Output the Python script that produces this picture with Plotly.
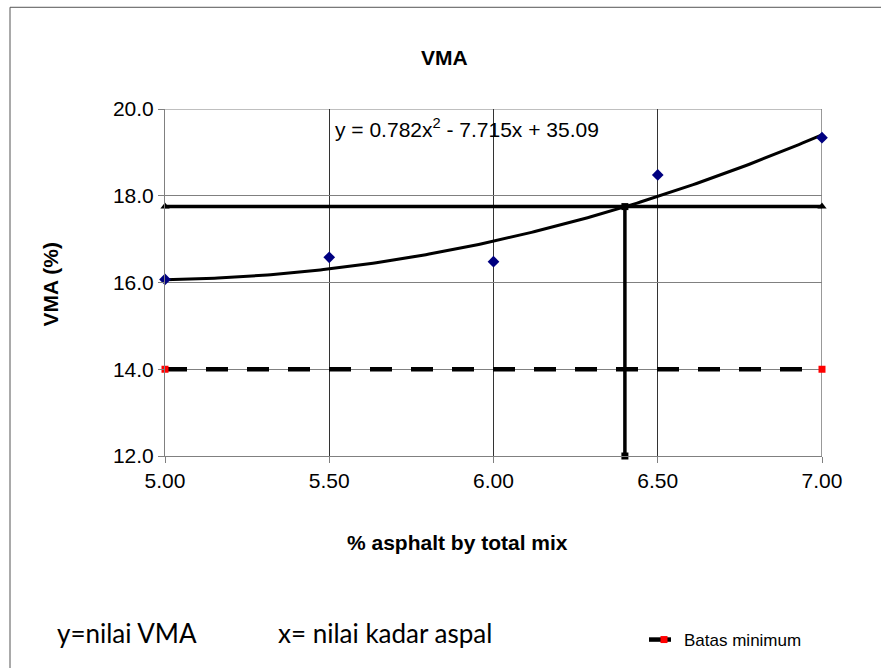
import numpy as np
import plotly.graph_objects as go

# data
asphalt = [5.0, 5.5, 6.0, 6.5, 7.0]
vma = [16.07, 16.58, 16.48, 18.48, 19.34]
trend_coef = [0.782, -7.715, 35.09]
vma_opt = 17.75
asphalt_opt = 6.40
min_limit = 14.0
x_ticks = [5.0, 5.5, 6.0, 6.5, 7.0]
x_labels = ["5.00", "5.50", "6.00", "6.50", "7.00"]
y_ticks = [12.0, 14.0, 16.0, 18.0, 20.0]
y_labels = ["12.0", "14.0", "16.0", "18.0", "20.0"]

W, H = 881, 668
L, R, T, B = 165, 822, 109, 457
FONT = "Liberation Sans"

fig = go.Figure()

xs = np.linspace(asphalt[0], asphalt[-1], 200)
ys = np.polyval(trend_coef, xs)
fig.add_trace(go.Scatter(x=xs, y=ys, mode="lines",
                         line=dict(color="black", width=3), showlegend=False, hoverinfo="skip"))

fig.add_trace(go.Scatter(x=[asphalt[0], asphalt[-1]], y=[vma_opt, vma_opt], mode="lines+markers",
                         line=dict(color="black", width=3.5), cliponaxis=False,
                         marker=dict(symbol="triangle-up", size=8, color="black"), showlegend=False))
fig.add_trace(go.Scatter(x=[asphalt_opt, asphalt_opt], y=[vma_opt, y_ticks[0]], mode="lines+markers",
                         line=dict(color="black", width=3.5), cliponaxis=False,
                         marker=dict(symbol="square", size=7, color="black"), showlegend=False))
fig.add_trace(go.Scatter(x=[asphalt[0], asphalt[-1]], y=[min_limit, min_limit], mode="lines+markers",
                         name="Batas minimum", cliponaxis=False,
                         line=dict(color="black", width=4.5, dash="22px,19px"),
                         marker=dict(symbol="square", size=7, color="red")))
fig.add_trace(go.Scatter(x=asphalt, y=vma, mode="markers", cliponaxis=False,
                         marker=dict(symbol="diamond", size=9, color="#000080"), showlegend=False))


def px_x(p):
    return (p - L) / (R - L)


def px_y(p):
    return (B - p) / (B - T)


def note(text, x, y, size, family=FONT, xanchor="center", angle=0):
    fig.add_annotation(text=text, xref="paper", yref="paper", x=px_x(x), y=px_y(y),
                       xanchor=xanchor, yanchor="middle", showarrow=False, textangle=angle,
                       font=dict(size=size, color="black", family=family))


note("<b>VMA</b>", 444, 57, 21)
note("y = 0.782x<sup>2</sup> - 7.715x + 35.09", 333, 128, 21, xanchor="left")
note("<b>% asphalt by total mix</b>", 457, 544, 21)
note("<b>VMA (%)</b>", 50, 285, 21, angle=-90)
note("y=nilai VMA", 55, 635, 26, family="Lato", xanchor="left")
note("x= nilai kadar aspal", 276, 635, 26, family="Lato", xanchor="left")

shapes = [
    dict(type="rect", xref="paper", yref="paper",
         x0=px_x(10), x1=px_x(900), y0=px_y(690), y1=px_y(7),
         line=dict(color="#555555", width=1), layer="below"),
    dict(type="line", xref="x", yref="y", x0=7.0, x1=7.0, y0=12, y1=20,
         line=dict(color="#333333", width=1), layer="below"),
    dict(type="line", xref="x", yref="y", x0=5.0, x1=7.0, y0=20, y1=20,
         line=dict(color="#808080", width=1), layer="below"),
]

fig.update_xaxes(range=[5.0, 7.0], tickvals=x_ticks, ticktext=x_labels,
                 showgrid=True, gridcolor="#333333", gridwidth=1,
                 showline=True, linecolor="#808080", linewidth=1,
                 ticks="outside", ticklen=6, tickcolor="#808080",
                 tickfont=dict(size=21, color="black", family=FONT),
                 zeroline=False)
fig.update_yaxes(range=[12.0, 20.0], tickvals=y_ticks, ticktext=y_labels,
                 showgrid=True, gridcolor="#808080", gridwidth=1,
                 showline=True, linecolor="#808080", linewidth=1,
                 ticks="outside", ticklen=6, tickcolor="#808080",
                 tickfont=dict(size=21, color="black", family=FONT),
                 zeroline=False)

fig.update_layout(width=W, height=H, margin=dict(l=L, r=W - R, t=T, b=H - B),
                  plot_bgcolor="white", paper_bgcolor="white",
                  font=dict(family=FONT, color="black"),
                  legend=dict(x=px_x(644), y=px_y(640), xanchor="left", yanchor="middle",
                              font=dict(size=17, color="black", family=FONT),
                              bgcolor="rgba(0,0,0,0)"),
                  shapes=shapes)

fig.write_html("out.html", config={"displayModeBar": False},
               post_script="document.body.style.margin='0';")
